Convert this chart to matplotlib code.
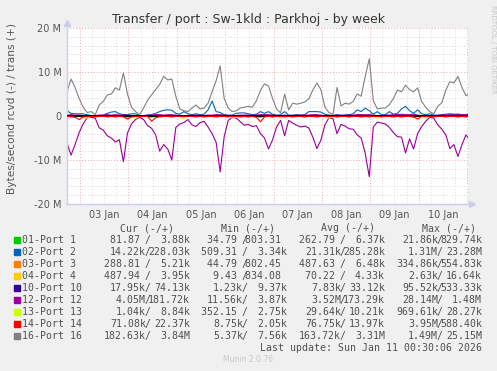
import numpy as np
import matplotlib.pyplot as plt
from matplotlib.patches import Rectangle

# ---- data (values in M bytes/second, one sample every 2 hours) ----
start_hour = 41.5          # hours after 02 Jan 00:00 where the graph starts
end_hour = 240.5           # 11 Jan 00:30

port16_trans = [5.5, 8.4, 6.5, 4.0, 2.0, 0.8, 1.0, 0.3, 2.5, 3.3,
                4.8, 5.0, 6.4, 5.9, 9.8, 5.0, 2.0, 1.0, 0.3, 1.8,
                3.6, 4.8, 6.0, 7.2, 9.0, 8.2, 8.4, 4.5, 1.6, 1.2,
                1.0, 1.8, 2.5, 1.6, 1.8, 2.9, 5.5, 8.0, 11.4, 4.0,
                1.8, 1.0, 1.2, 1.8, 2.0, 2.2, 2.0, 3.5, 5.8, 7.3,
                6.8, 4.0, 1.6, 0.7, 5.0, 1.4, 2.9, 2.7, 2.9, 3.2,
                3.9, 5.9, 7.5, 6.0, 2.0, 0.8, 0.3, 6.5, 2.3, 2.9,
                2.7, 3.3, 5.0, 4.5, 9.0, 13.0, 3.5, 1.6, 1.8, 1.8,
                2.6, 4.0, 5.9, 5.5, 7.0, 6.0, 5.5, 6.4, 3.3, 2.0,
                1.0, 0.5, 2.2, 3.0, 5.9, 7.8, 7.5, 9.0, 6.5, 4.6,
                5.2]

port12_rcvd = [-6.2, -8.9, -6.5, -3.8, -1.8, -0.4, -0.3, -0.5, -2.7, -3.2,
               -4.5, -5.0, -5.9, -5.4, -10.4, -3.9, -1.8, -0.8, -0.3, -0.8,
               -2.2, -2.8, -4.3, -8.0, -6.5, -7.5, -10.0, -2.6, -1.8, -1.5,
               -0.8, -2.0, -2.4, -1.5, -1.2, -2.5, -4.0, -6.0, -12.7, -4.7,
               -1.0, -0.3, -0.5, -1.3, -2.1, -1.9, -2.4, -2.2, -4.0, -5.0,
               -7.5, -5.4, -2.5, -1.0, -4.5, -1.0, -1.6, -2.1, -2.5, -2.3,
               -2.7, -4.8, -7.4, -5.5, -2.0, -0.4, -0.6, -4.0, -1.9, -2.3,
               -2.9, -3.0, -4.3, -5.0, -8.5, -13.8, -2.5, -1.4, -1.6, -1.8,
               -2.6, -3.8, -4.7, -4.8, -8.4, -5.2, -7.5, -4.0, -2.4, -1.2,
               -0.3, -0.5, -2.0, -3.0, -4.3, -7.4, -6.5, -9.2, -6.5, -4.3,
               -5.5]

port12_trans = [0.2, 0.3, 0.2, 0.2, 0.1, 0.1, 0.1, 0.1, 0.2, 0.2,
                0.3, 0.2, 0.3, 0.2, 0.3, 0.2, 0.1, 0.1, 0.1, 0.1,
                0.2, 0.2, 0.3, 0.3, 0.2, 0.3, 0.3, 0.2, 0.1, 0.1,
                0.1, 0.2, 0.2, 0.1, 0.1, 0.2, 0.2, 0.3, 0.3, 0.2,
                0.1, 0.1, 0.1, 0.2, 0.2, 0.2, 0.2, 0.2, 0.3, 0.3,
                0.3, 0.2, 0.1, 0.1, 0.2, 0.1, 0.1, 0.2, 0.2, 0.2,
                0.2, 0.3, 0.3, 0.2, 0.1, 0.1, 0.1, 0.2, 0.1, 0.2,
                0.2, 0.2, 0.3, 0.3, 0.3, 0.3, 0.2, 0.1, 0.1, 0.2,
                0.2, 0.3, 0.3, 0.4, 0.3, 0.3, 0.4, 0.2, 0.1, 0.1,
                0.1, 0.1, 0.2, 0.3, 0.4, 0.5, 0.4, 0.4, 0.3, 0.3,
                0.3]

port2_trans = [1.2, 0.6, 0.5, 0.5, 0.5, 0.3, 0.1, 0.1, 0.1, 0.2,
               0.6, 0.9, 1.0, 0.5, 0.3, 0.3, 0.5, 0.5, 0.1, 0.1,
               0.2, 0.3, 0.6, 1.0, 1.3, 1.4, 1.3, 0.6, 0.4, 1.0,
               0.5, 0.3, 0.5, 0.3, 0.4, 1.4, 3.4, 1.0, 0.8, 0.3,
               0.2, 0.2, 0.6, 0.7, 0.7, 0.5, 0.3, 0.4, 1.0, 0.6,
               1.0, 0.4, 0.2, 0.3, 1.0, 0.2, 0.2, 0.3, 0.2, 0.3,
               1.0, 1.0, 1.0, 0.9, 0.4, 0.2, 0.1, 0.3, 0.2, 0.2,
               0.3, 0.5, 1.4, 1.0, 1.8, 1.2, 0.4, 1.0, 0.3, 0.3,
               1.0, 0.4, 0.6, 1.6, 2.2, 1.2, 0.6, 1.4, 0.5, 0.3,
               0.5, 0.2, 0.1, 0.2, 0.2, 0.3, 0.3, 0.4, 0.3, 0.3,
               0.5]

port14_rcvd = [-0.1, -0.1, -0.3, -0.8, -0.2, -0.1, -0.1, -0.1, -0.1, -0.1,
               -0.1, -0.1, -0.1, -0.1, -0.2, -0.7, -0.2, -0.1, -0.1, -0.1,
               -0.1, -1.2, -0.4, -0.1, -0.1, -0.1, -0.1, -0.1, -0.1, -0.1,
               -0.1, -0.1, -0.1, -0.1, -0.1, -0.1, -0.1, -0.1, -0.1, -0.1,
               -0.1, -0.1, -0.1, -0.1, -0.1, -0.1, -0.1, -0.3, -1.3, -0.2,
               -0.1, -0.1, -0.1, -0.1, -0.1, -0.1, -0.1, -0.1, -0.1, -0.1,
               -0.1, -0.1, -0.1, -0.1, -0.1, -0.1, -0.1, -0.1, -0.1, -0.1,
               -0.1, -0.1, -0.1, -0.1, -0.1, -0.1, -0.1, -0.1, -0.1, -0.1,
               -0.1, -0.1, -0.1, -0.1, -0.1, -0.1, -0.2, -0.7, -0.1, -0.1,
               -0.1, -0.1, -0.1, -0.1, -0.1, -0.1, -0.1, -0.1, -0.1, -0.1,
               -0.1]

port13_rcvd = [0.0, 0.0, 0.0, 0.0, -0.1, -0.5, -0.1, 0.0, 0.0, 0.0,
               0.0, 0.0, 0.0, 0.0, 0.0, 0.0, -0.1, -0.5, -0.1, 0.0,
               0.0, 0.0, 0.0, 0.0, 0.0, 0.0, 0.0, 0.0, -0.1, -0.5,
               -0.1, 0.0, 0.0, 0.0, 0.0, 0.0, 0.0, 0.0, 0.0, 0.0,
               -0.1, -0.5, -0.1, 0.0, 0.0, 0.0, 0.0, 0.0, 0.0, 0.0,
               0.0, 0.0, -0.1, -0.5, -0.1, 0.0, 0.0, 0.0, 0.0, 0.0,
               0.0, 0.0, 0.0, 0.0, -0.1, -0.5, -0.1, 0.0, 0.0, 0.0,
               0.0, 0.0, 0.0, 0.0, 0.0, 0.0, -0.1, -0.5, -0.1, 0.0,
               0.0, 0.0, 0.0, 0.0, 0.0, 0.0, 0.0, 0.0, -0.1, -0.5,
               -0.1, 0.0, 0.0, 0.0, 0.0, 0.0, 0.0, 0.0, 0.0, 0.0,
               0.0]

port10_rcvd = [-0.1, -0.2, -0.1, -0.1, -0.2, -0.1, -0.1, -0.2, -0.1, -0.1,
               -0.2, -0.1, -0.2, -0.1, -0.1, -0.2, -0.1, -0.1, -0.2, -0.1,
               -0.1, -0.2, -0.1, -0.2, -0.1, -0.1, -0.2, -0.1, -0.1, -0.2,
               -0.1, -0.1, -0.2, -0.1, -0.2, -0.1, -0.1, -0.2, -0.1, -0.1,
               -0.2, -0.1, -0.1, -0.2, -0.1, -0.2, -0.1, -0.1, -0.2, -0.1,
               -0.1, -0.2, -0.1, -0.1, -0.2, -0.1, -0.2, -0.1, -0.1, -0.2,
               -0.1, -0.1, -0.2, -0.1, -0.1, -0.2, -0.1, -0.2, -0.1, -0.1,
               -0.2, -0.1, -0.1, -0.2, -0.1, -0.2, -0.1, -0.1, -0.2, -0.1,
               -0.1, -0.2, -0.1, -0.2, -0.1, -0.1, -0.2, -0.1, -0.1, -0.2,
               -0.1, -0.2, -0.1, -0.1, -0.2, -0.1, -0.1, -0.2, -0.1, -0.2,
               -0.1]

day_labels = ["03 Jan", "04 Jan", "05 Jan", "06 Jan", "07 Jan", "08 Jan", "09 Jan", "10 Jan"]
y_ticks = [-20, -10, 0, 10, 20]
y_tick_labels = ["-20 M", "-10 M", "0", "10 M", "20 M"]

names = ["01-Port 1", "02-Port 2", "03-Port 3", "04-Port 4", "10-Port 10",
         "12-Port 12", "13-Port 13", "14-Port 14", "16-Port 16"]
colors = ["#00CC00", "#0066B3", "#FF8000", "#FFCC00", "#330099",
          "#990099", "#CCFF00", "#FF0000", "#808080"]
cur_in = ["81.87", "14.22k", "288.81", "487.94", "17.95k", "4.05M", "1.04k", "71.08k", "182.63k"]
cur_out = ["3.88k", "228.03k", "5.21k", "3.95k", "74.13k", "181.72k", "8.84k", "22.37k", "3.84M"]
min_in = ["34.79", "509.31", "44.79", "9.43", "1.23k", "11.56k", "352.15", "8.75k", "5.37k"]
min_out = ["803.31", "3.34k", "802.45", "834.08", "9.37k", "3.87k", "2.75k", "2.05k", "7.56k"]
avg_in = ["262.79", "21.31k", "487.63", "70.22", "7.83k", "3.52M", "29.64k", "76.75k", "163.72k"]
avg_out = ["6.37k", "285.28k", "6.48k", "4.33k", "33.12k", "173.29k", "10.21k", "13.97k", "3.31M"]
max_in = ["21.86k", "1.31M", "334.86k", "2.63k", "95.52k", "28.14M", "969.61k", "3.95M", "1.49M"]
max_out = ["829.74k", "23.28M", "554.83k", "16.64k", "533.33k", "1.48M", "28.27k", "588.40k", "25.15M"]

# ---- figure ----
W, H = 497, 371
fig = plt.figure(figsize=(W / 100, H / 100), dpi=100, facecolor="#F0F0F0")


def fx(px):
    return px / W


def fy(py):
    return 1 - py / H


ax = fig.add_axes([fx(67), fy(204), fx(468) - fx(67), fy(28) - fy(204)])
ax.set_facecolor("white")
ax.set_xlim(start_hour, end_hour)
ax.set_ylim(-20, 20)

hours = start_hour + 2 * np.arange(len(port16_trans))

# grid
for h in np.arange(48, end_hour, 6):
    if h % 24 == 0:
        ax.axvline(h, color="#F0A8A8", lw=0.7, ls=(0, (1, 2)), zorder=0)
    else:
        ax.axvline(h, color="#D8D8D8", lw=0.7, ls=(0, (1, 2)), zorder=0)
for v in range(-18, 21, 2):
    if v % 10 == 0:
        ax.axhline(v, color="#F0A8A8", lw=0.7, ls=(0, (1, 2)), zorder=0)
    else:
        ax.axhline(v, color="#D8D8D8", lw=0.7, ls=(0, (1, 2)), zorder=0)

lw = 0.8
ax.plot(hours, port2_trans, color=colors[1], lw=lw)
ax.plot(hours, port10_rcvd, color=colors[4], lw=lw)
ax.plot(hours, port12_rcvd, color=colors[5], lw=lw)
ax.plot(hours, port12_trans, color=colors[5], lw=lw)
ax.plot(hours, port13_rcvd, color=colors[6], lw=lw)
ax.plot(hours, port16_trans, color=colors[8], lw=lw)
ax.axhline(0, color="black", lw=1.3, zorder=3)
ax.plot(hours, port14_rcvd, color=colors[7], lw=lw, zorder=4)

# axes styling
for s in ["top", "right"]:
    ax.spines[s].set_visible(False)
for s in ["left", "bottom"]:
    ax.spines[s].set_color("#CCCCEE")
    ax.spines[s].set_linewidth(1)
ax.plot(0, 1.03, marker="^", color="#CCCCEE", ms=4, transform=ax.transAxes, clip_on=False)
ax.plot(1.01, 0, marker=">", color="#CCCCEE", ms=4, transform=ax.transAxes, clip_on=False)

noon = 60 + 24 * np.arange(len(day_labels))
ax.set_xticks(noon)
ax.set_xticklabels(day_labels)
ax.set_yticks(y_ticks)
ax.set_yticklabels(y_tick_labels)
ax.tick_params(axis="both", length=0, labelsize=7, labelcolor="#555555", pad=4)

fig.text(fx(248), fy(19), "Transfer / port : Sw-1kld : Parkhoj - by week",
         ha="center", va="center", fontsize=9, color="#333333")
fig.text(fx(12), fy(109), "Bytes/second rcvd (-) / trans (+)", rotation=90,
         ha="center", va="center", fontsize=7.6, color="#555555")
fig.text(fx(493), fy(49), "RRDTOOL / TOBI OETIKER", rotation=270,
         ha="center", va="center", fontsize=5, color="#C8C8C8")

# ---- legend table ----
mono = "DejaVu Sans Mono"
fs = 7.1
tc = "#505050"
col_right = [190, 287, 385, 482]
headers = ["Cur (-/+)", "Min (-/+)", "Avg (-/+)", "Max (-/+)"]
header_x = [147, 248, 348, 449]
for hx, txt in zip(header_x, headers):
    fig.text(fx(hx), fy(228), txt, ha="center", va="center", family=mono, fontsize=fs, color=tc)


def unit(s):
    return s if s[-1] in "kM" else s + " "


columns = [(cur_in, cur_out), (min_in, min_out), (avg_in, avg_out), (max_in, max_out)]
for i, name in enumerate(names):
    y = 240 + 12 * i
    fig.patches.append(Rectangle((fx(14), fy(y + 3)), fx(6), fy(y - 3) - fy(y + 3),
                                 transform=fig.transFigure, color=colors[i]))
    fig.text(fx(22), fy(y), name, ha="left", va="center", family=mono, fontsize=fs, color=tc)
    for (vin, vout), cr in zip(columns, col_right):
        fig.text(fx(cr - 44), fy(y), unit(vin[i]), ha="right", va="center",
                 family=mono, fontsize=fs, color=tc)
        fig.text(fx(cr - 42.5), fy(y), "/", ha="center", va="center",
                 family=mono, fontsize=fs, color=tc)
        fig.text(fx(cr), fy(y), unit(vout[i]), ha="right", va="center",
                 family=mono, fontsize=fs, color=tc)

fig.text(fx(482), fy(348), "Last update: Sun Jan 11 00:30:06 2026", ha="right", va="center",
         family=mono, fontsize=fs, color=tc)
fig.text(fx(248), fy(360), "Munin 2.0.76", ha="center", va="center", fontsize=5.5, color="#C8C8C8")

fig.savefig("out.png", dpi=100, facecolor=fig.get_facecolor())
